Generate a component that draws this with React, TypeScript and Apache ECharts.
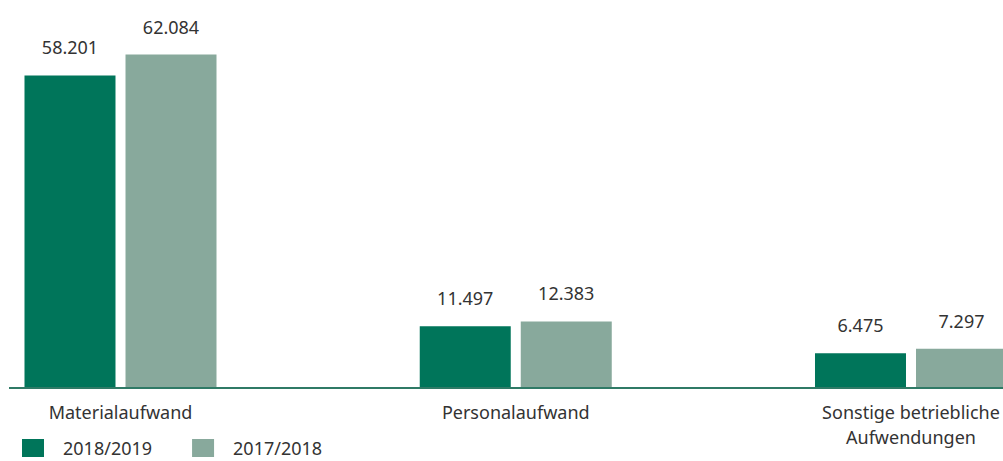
import React, { useEffect, useRef } from "react";
import * as echarts from "echarts";

const categories = ["Materialaufwand", "Personalaufwand", "Sonstige betriebliche\nAufwendungen"];
const series2019 = [58201, 11497, 6475];
const series2018 = [62084, 12383, 7297];
const seriesNames = ["2018/2019", "2017/2018"];

const fmt = (v: number) => {
  const s = Math.round(v).toString();
  return s.replace(/\B(?=(\d{3})+(?!\d))/g, ".");
};

export default function App() {
  const ref = useRef<HTMLDivElement>(null);
  useEffect(() => {
    if (!ref.current) return;
    const chart = echarts.init(ref.current, undefined, { renderer: "svg" });
    const font = "'Noto Sans', sans-serif";
    const label = {
      show: true,
      position: "top",
      distance: 19,
      fontSize: 18,
      color: "#333",
      fontFamily: font,
      formatter: (p: any) => fmt(p.value),
    };
    chart.setOption({
      animation: false,
      textStyle: { fontFamily: font },
      grid: { left: 120.5, right: 92, top: 12, height: 376 },
      legend: {
        left: 17,
        top: 434,
        itemWidth: 22,
        itemHeight: 18,
        itemGap: 40,
        icon: "rect",
        textStyle: { fontSize: 18, color: "#333", fontFamily: font, padding: [0, 0, 0, 14] },
        data: seriesNames,
      },
      xAxis: {
        type: "category",
        data: categories,
        boundaryGap: false,
        axisLine: { show: false },
        axisTick: { show: false },
        axisLabel: { fontSize: 18, color: "#333", margin: 11, lineHeight: 25, fontFamily: font, interval: 0 },
      },
      yAxis: { type: "value", min: 0, max: 70000, show: false, splitLine: { show: false } },
      graphic: [
        {
          type: "line",
          shape: { x1: 9, y1: 388, x2: 1003, y2: 388 },
          style: { stroke: "#2f7a66", lineWidth: 2 },
          z: 10,
        },
      ],
      series: [
        {
          name: seriesNames[0],
          type: "bar",
          data: series2019,
          barWidth: 91,
          barGap: "11%",
          clip: false,
          itemStyle: { color: "#00755a" },
          label,
        },
        {
          name: seriesNames[1],
          type: "bar",
          data: series2018,
          barWidth: 91,
          clip: false,
          itemStyle: { color: "#88a99c" },
          label,
        },
      ],
    });
    return () => chart.dispose();
  }, []);
  return <div ref={ref} style={{ width: 1003, height: 461, position: "absolute", left: 0, top: 0 }} />;
}
